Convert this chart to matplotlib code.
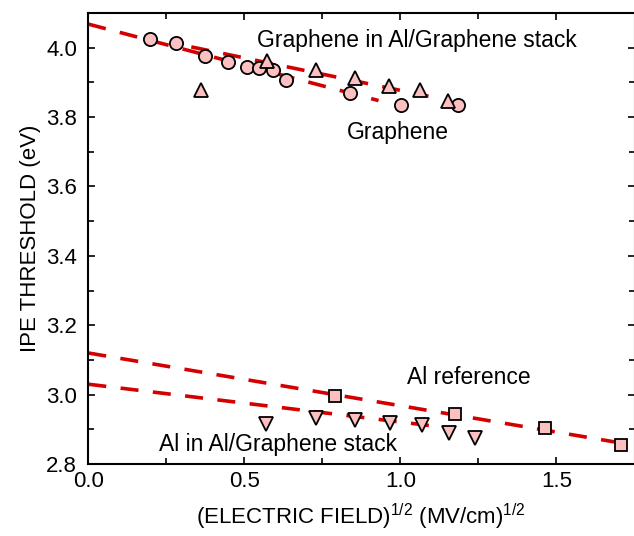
import matplotlib
matplotlib.use("Agg")
import matplotlib.pyplot as plt
import numpy as np
from matplotlib.ticker import MultipleLocator, FormatStrFormatter

plt.rcParams['font.family'] = ['Liberation Sans', 'DejaVu Sans']
plt.rcParams['mathtext.fontset'] = 'custom'
plt.rcParams['mathtext.rm'] = 'Liberation Sans'
plt.rcParams['mathtext.default'] = 'regular'

# Graphene (single layer)
gr_x = [0.198, 0.281, 0.373, 0.446, 0.510, 0.548, 0.591, 0.634, 0.837, 1.001, 1.184]
gr_y = [4.024, 4.014, 3.976, 3.959, 3.945, 3.942, 3.937, 3.908, 3.868, 3.836, 3.836]

# Graphene in Al/Graphene stack
grs_x = [0.360, 0.574, 0.728, 0.854, 0.965, 1.063, 1.153]
grs_y = [3.879, 3.962, 3.935, 3.914, 3.890, 3.879, 3.846]

# Al reference
al_x = [0.791, 1.176, 1.464, 1.707]
al_y = [2.995, 2.943, 2.903, 2.856]

# Al in Al/Graphene stack
als_x = [0.570, 0.730, 0.854, 0.966, 1.069, 1.156, 1.239]
als_y = [2.915, 2.932, 2.927, 2.918, 2.912, 2.889, 2.875]

# Linear fits: (intercept, slope, x_start, x_end)
fit_gr = (4.068, -0.237, 0.0, 0.93)
fit_grs = (4.064, -0.187, 0.33, 1.09)
fit_al = (3.120, -0.152, 0.0, 1.70)
fit_als = (3.030, -0.109, 0.0, 1.10)

W, H = 634, 536
fig = plt.figure(figsize=(W / 100, H / 100), dpi=100)
left, right, top, bottom = 88.3, 634.5, 13, 464
ax = fig.add_axes([left / W, 1 - bottom / H, (right - left) / W, (bottom - top) / H])

red = '#d40000'
for b0, b1, xa, xb in (fit_gr, fit_grs, fit_al, fit_als):
    xs = np.array([xa, xb])
    ax.plot(xs, b0 + b1 * xs, color=red, lw=2.6, dashes=(5, 4), zorder=2,
            solid_capstyle='butt', dash_capstyle='butt')

face = '#fcc0c0'
mk = dict(linestyle='none', markerfacecolor=face, markeredgecolor='black',
          markeredgewidth=1.3, zorder=3)
ax.plot(gr_x, gr_y, marker='o', markersize=9.5, **mk)
ax.plot(grs_x, grs_y, marker='^', markersize=10, **mk)
ax.plot(al_x, al_y, marker='s', markersize=8, **mk)
ax.plot(als_x, als_y, marker='v', markersize=10, **mk)

ax.set_xlim(0, 1.75)
ax.set_ylim(2.8, 4.1)
ax.xaxis.set_major_locator(MultipleLocator(0.5))
ax.xaxis.set_minor_locator(MultipleLocator(0.25))
ax.yaxis.set_major_locator(MultipleLocator(0.2))
ax.yaxis.set_minor_locator(MultipleLocator(0.1))
ax.xaxis.set_major_formatter(FormatStrFormatter('%.1f'))
ax.yaxis.set_major_formatter(FormatStrFormatter('%.1f'))
ax.tick_params(which='both', direction='in', top=True, right=True,
               labelsize=16, width=1.2)
ax.tick_params(which='major', length=5)
ax.tick_params(which='minor', length=4)
ax.tick_params(axis='x', which='major', pad=5)
ax.tick_params(axis='y', which='major', pad=8)
for s in ax.spines.values():
    s.set_linewidth(1.5)

ax.set_xlabel('(ELECTRIC FIELD)$^{1/2}$ (MV/cm)$^{1/2}$', fontsize=16, labelpad=7)
ax.set_ylabel('IPE THRESHOLD (eV)', fontsize=16, labelpad=4)

ax.text(0.54, 4.0205, 'Graphene in Al/Graphene stack', fontsize=16.5, va='center', ha='left')
ax.text(0.83, 3.7565, 'Graphene', fontsize=16.5, va='center', ha='left')
ax.text(1.02, 3.0495, 'Al reference', fontsize=16.5, va='center', ha='left')
ax.text(0.225, 2.8565, 'Al in Al/Graphene stack', fontsize=16.5, va='center', ha='left')

fig.savefig('out.png', dpi=100)
